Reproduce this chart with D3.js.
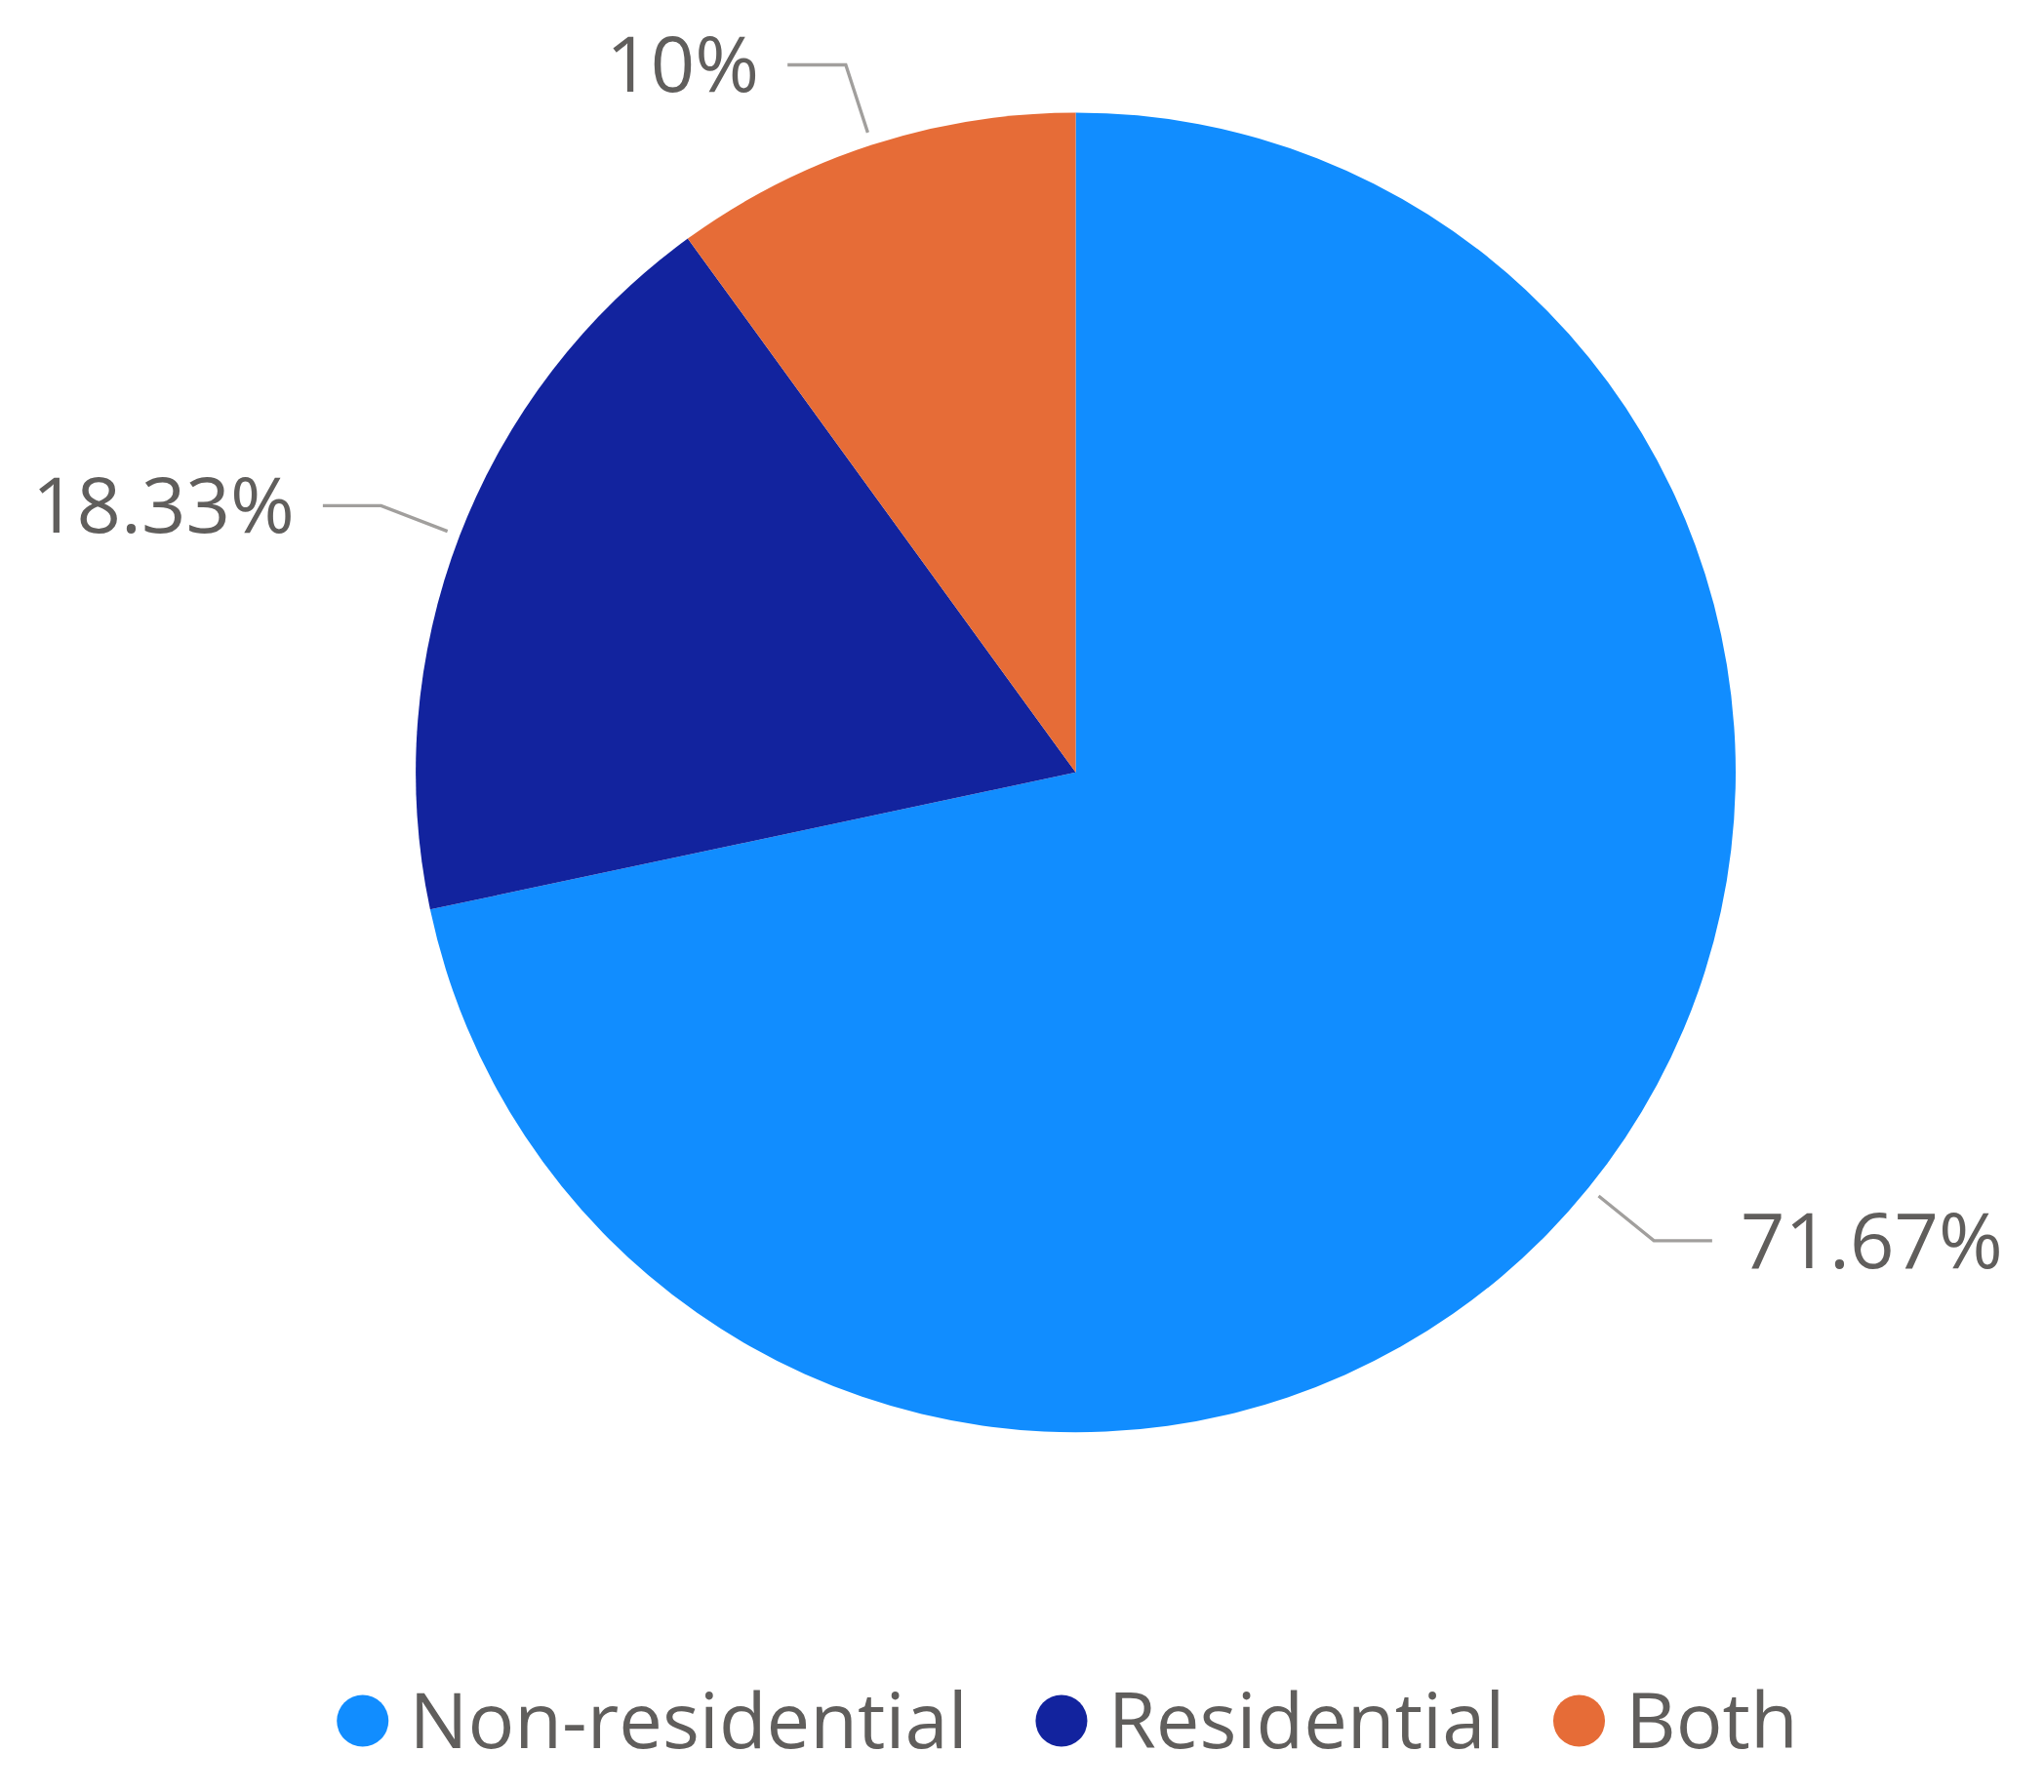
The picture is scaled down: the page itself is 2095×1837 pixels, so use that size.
<!DOCTYPE html>
<html>
<head>
<meta charset="utf-8">
<script src="https://cdn.jsdelivr.net/npm/d3@7"></script>
<style>
  html, body { margin: 0; padding: 0; background: #fff; }
  svg { display: block; }
</style>
</head>
<body>
<div id="chart"></div>
<script>
const categories = ["Non-residential", "Residential", "Both"];
const values = [71.67, 18.33, 10];
const labels = ["71.67%", "18.33%", "10%"];
const colors = ["#118DFF", "#12239E", "#E66C37"];

const W = 1563, H = 1385;
const cx = 823, cy = 597, r = 510;
const textColor = "#605E5C";
const font = "'Open Sans', 'Noto Sans', sans-serif";

const svg = d3.select("#chart").append("svg")
  .attr("width", 2095).attr("height", 1837)
  .attr("viewBox", `0 0 ${W} ${H}`);

const pie = d3.pie().sort(null).value(d => d)(values);
const arc = d3.arc().innerRadius(0).outerRadius(r);

const g = svg.append("g").attr("transform", `translate(${cx},${cy})`);

g.selectAll("path.slice")
  .data(pie)
  .enter().append("path")
  .attr("class", "slice")
  .attr("d", arc)
  .attr("fill", (d, i) => colors[i]);

// leader lines and labels
const pt = (a, rr) => [Math.sin(a) * rr, -Math.cos(a) * rr];
pie.forEach((d, i) => {
  const a = (d.startAngle + d.endAngle) / 2;
  const p1 = pt(a, r + 10);
  const p2 = pt(a, r + 65);
  const right = Math.sin(a) > 0;
  const p3 = [p2[0] + (right ? 45 : -45), p2[1]];
  g.append("polyline")
    .attr("points", [p1, p2, p3].map(p => p.join(",")).join(" "))
    .attr("fill", "none")
    .attr("stroke", "#A19F9D")
    .attr("stroke-width", 2.5);
  g.append("text")
    .attr("x", p3[0] + (right ? 22 : -22))
    .attr("y", p3[1])
    .attr("dy", "0.35em")
    .attr("text-anchor", right ? "start" : "end")
    .attr("font-family", font)
    .attr("font-size", 60)
    .attr("fill", textColor)
    .text(labels[i]);
});

// legend
const legendX = [272, 812, 1212];
const legend = svg.append("g").attr("transform", "translate(0,1330)");
categories.forEach((c, i) => {
  legend.append("circle")
    .attr("cx", legendX[i]).attr("cy", 0).attr("r", 20)
    .attr("fill", colors[i]);
  legend.append("text")
    .attr("x", legendX[i] + 36).attr("y", 0)
    .attr("dy", "0.35em")
    .attr("font-family", font)
    .attr("font-size", 60)
    .attr("fill", textColor)
    .text(c);
});
</script>
</body>
</html>
